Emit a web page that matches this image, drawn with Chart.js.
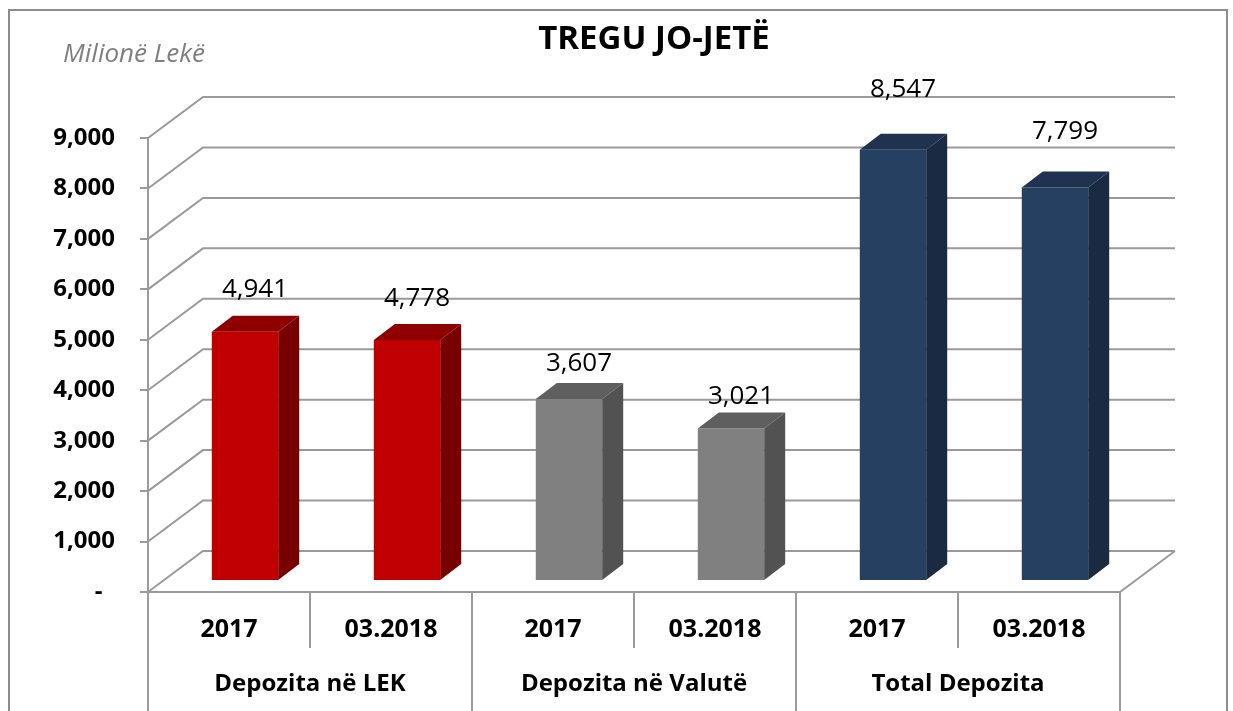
<!DOCTYPE html>
<html lang="sq">
<head>
  <meta charset="UTF-8">
  <title>Tregu jo-jetë</title>
  <script src="https://cdn.jsdelivr.net/npm/chart.js"></script>
  <style>
    html, body { margin: 0; padding: 0; background: #fff; }
    canvas { display: block; }
  </style>
</head>
<body>
  <canvas id="depoChart" width="1233" height="711"></canvas>

  <script>
    // data
    const periods = ['2017', '03.2018', '2017', '03.2018', '2017', '03.2018'];
    const groups = ['Depozita në LEK', 'Depozita në Valutë', 'Total Depozita'];
    const deposits = [4941, 4778, 3607, 3021, 8547, 7799];
    const yMax = 9000;
    const yStep = 1000;

    // colours of the three faces of every bar
    const frontColors = ['#c00000', '#c00000', '#808080', '#808080', '#254061', '#254061'];
    const topColors = ['#8e0000', '#8e0000', '#5f5f5f', '#5f5f5f', '#1f3250', '#1f3250'];
    const sideColors = ['#780000', '#780000', '#525252', '#525252', '#1a2a40', '#1a2a40'];

    const GRID = '#9a9a9a';
    const FONT = "'Open Sans', 'DejaVu Sans', sans-serif";

    // fake 3d: wall depth, bar offset inside the floor, bar depth
    const WALL = { dx: 55, dy: 41 };
    const SHIFT = { dx: 16, dy: 11 };
    const DEPTH = { dx: 21, dy: 16 };

    const fake3d = {
      id: 'fake3d',
      beforeDraw(chart) {
        const ctx = chart.ctx;
        ctx.save();
        ctx.strokeStyle = '#8c8c8c';
        ctx.lineWidth = 2;
        ctx.strokeRect(9, 10, 1218, 720);

        ctx.fillStyle = '#000';
        ctx.font = 'bold 33px ' + FONT;
        ctx.textAlign = 'center';
        ctx.textBaseline = 'middle';
        ctx.fillText('TREGU JO-JETË', 654, 40);

        ctx.fillStyle = '#7f7f7f';
        ctx.font = 'italic 26px ' + FONT;
        ctx.textAlign = 'left';
        ctx.fillText('Milionë Lekë', 63, 55);
        ctx.restore();
      },
      beforeDatasetsDraw(chart) {
        const { ctx, chartArea: a, scales: { x, y } } = chart;
        ctx.save();
        ctx.strokeStyle = GRID;
        ctx.lineWidth = 2;

        // side wall + back wall gridlines
        y.ticks.forEach(t => {
          const py = y.getPixelForValue(t.value);
          ctx.beginPath();
          ctx.moveTo(a.left, py);
          ctx.lineTo(a.left + WALL.dx, py - WALL.dy);
          ctx.lineTo(a.right + WALL.dx, py - WALL.dy);
          ctx.stroke();
        });

        // floor edges
        ctx.beginPath();
        ctx.moveTo(a.left, a.bottom);
        ctx.lineTo(a.right, a.bottom);
        ctx.lineTo(a.right + WALL.dx, a.bottom - WALL.dy);
        ctx.stroke();

        // category table below the floor
        const cw = x.width / periods.length;
        for (let k = 0; k <= periods.length; k++) {
          const px = a.left + k * cw;
          ctx.beginPath();
          ctx.moveTo(px, a.bottom);
          ctx.lineTo(px, k % 2 === 0 ? chart.height : x.bottom);
          ctx.stroke();
        }
        ctx.restore();

        // bar fronts are drawn a bit inside the floor
        ctx.save();
        ctx.translate(SHIFT.dx, -SHIFT.dy);
      },
      afterDatasetsDraw(chart) {
        const ctx = chart.ctx;
        const meta = chart.getDatasetMeta(0);
        meta.data.forEach((bar, i) => {
          const { x, y, base, width } = bar.getProps(['x', 'y', 'base', 'width'], true);
          const l = x - width / 2, r = x + width / 2;
          ctx.fillStyle = topColors[i];
          ctx.beginPath();
          ctx.moveTo(l, y);
          ctx.lineTo(l + DEPTH.dx, y - DEPTH.dy);
          ctx.lineTo(r + DEPTH.dx, y - DEPTH.dy);
          ctx.lineTo(r, y);
          ctx.closePath();
          ctx.fill();

          ctx.fillStyle = sideColors[i];
          ctx.beginPath();
          ctx.moveTo(r, y);
          ctx.lineTo(r + DEPTH.dx, y - DEPTH.dy);
          ctx.lineTo(r + DEPTH.dx, base - DEPTH.dy);
          ctx.lineTo(r, base);
          ctx.closePath();
          ctx.fill();
        });
        ctx.restore();

        // value labels
        ctx.save();
        ctx.fillStyle = '#000';
        ctx.font = '26px ' + FONT;
        ctx.textAlign = 'center';
        ctx.textBaseline = 'middle';
        meta.data.forEach((bar, i) => {
          const { x, y, base } = bar.getProps(['x', 'y', 'base'], true);
          const top = y - SHIFT.dy;
          const ly = top - 17 - 0.1 * (base - y);
          ctx.fillText(deposits[i].toLocaleString('en-US'), x + SHIFT.dx + 10, ly);
        });
        ctx.restore();
      }
    };

    new Chart(document.getElementById('depoChart'), {
      type: 'bar',
      data: {
        labels: periods,
        datasets: [{
          data: deposits,
          backgroundColor: frontColors,
          barPercentage: 0.41,
          categoryPercentage: 1
        }]
      },
      options: {
        responsive: false,
        animation: false,
        devicePixelRatio: 1,
        layout: { padding: { left: 8, top: 138, right: 113, bottom: 0 } },
        plugins: {
          legend: { display: false },
          tooltip: { enabled: false }
        },
        scales: {
          y: {
            min: 0,
            max: yMax,
            afterFit: s => { s.width = 140; },
            ticks: {
              stepSize: yStep,
              padding: 25,
              color: '#000',
              font: { family: FONT, size: 24, weight: 'bold' },
              callback: v => v === 0 ? '-  ' : v.toLocaleString('en-US')
            },
            grid: { drawOnChartArea: false, tickLength: 8, color: GRID, lineWidth: 2 },
            border: { display: true, color: GRID, width: 2 }
          },
          x: {
            weight: 1,
            afterFit: s => { s.height = 56; },
            ticks: {
              padding: 23,
              color: '#000',
              font: { family: FONT, size: 25, weight: 'bold' }
            },
            grid: { display: false, drawTicks: false, tickLength: 0 },
            border: { display: false }
          },
          x2: {
            type: 'category',
            position: 'bottom',
            labels: groups,
            offset: true,
            weight: 2,
            afterFit: s => { s.height = 63; },
            ticks: {
              padding: 22,
              color: '#000',
              font: { family: FONT, size: 24, weight: 'bold' }
            },
            grid: { display: false, drawTicks: false, tickLength: 0 },
            border: { display: false }
          }
        }
      },
      plugins: [fake3d]
    });
  </script>
</body>
</html>
